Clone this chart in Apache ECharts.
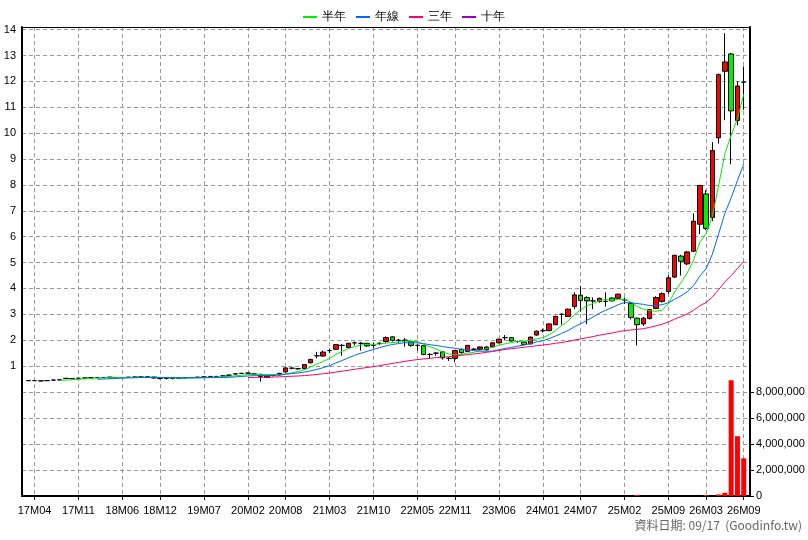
<!DOCTYPE html>
<html><head><meta charset="utf-8">
<script src="https://cdn.jsdelivr.net/npm/echarts@6/dist/echarts.min.js"></script>
<style>html,body{margin:0;padding:0;background:#fff}#c{width:808px;height:540px}</style>
</head><body><div id="c"></div>
<script>
// month categories 17M03 .. 26M09
const months = [];
for (let y = 17, m = 3; !(y === 26 && m === 10); ) {
  months.push(String(y) + 'M' + String(m).padStart(2, '0'));
  m++; if (m > 12) { m = 1; y++; }
}
const shownLabels = ['17M04','17M11','18M06','18M12','19M07','20M02','20M08','21M03','21M10','22M05','22M11','23M06','24M01','24M07','25M02','25M09','26M03','26M09'];
const priceTicks = [1,2,3,4,5,6,7,8,9,10,11,12,13,14];
const volTicks = [0,2000000,4000000,6000000,8000000];
// [open, close, low, high]
const ohlc = [
[.44,.44,.44,.45],[.44,.44,.43,.45],[.43,.43,.42,.44],[.44,.44,.43,.45],[.46,.46,.45,.47],[.47,.47,.46,.48],
[.53,.52,.51,.54],[.52,.52,.51,.53],[.53,.53,.52,.54],[.54,.54,.53,.55],[.55,.55,.54,.56],[.56,.56,.54,.57],
[.56,.56,.55,.57],[.57,.57,.55,.58],[.56,.56,.53,.57],[.56,.56,.55,.57],[.57,.57,.55,.58],[.58,.57,.55,.60],
[.58,.58,.56,.62],[.59,.59,.55,.60],[.58,.54,.51,.58],[.53,.53,.49,.54],[.52,.52,.49,.54],[.53,.52,.49,.54],
[.53,.53,.51,.55],[.55,.55,.52,.57],[.56,.56,.54,.58],[.57,.57,.55,.58],[.58,.58,.56,.60],[.60,.60,.57,.61],
[.60,.60,.58,.62],[.62,.62,.60,.64],[.65,.65,.63,.67],[.70,.70,.67,.71],[.72,.72,.70,.73],[.73,.73,.71,.74],
[.70,.70,.68,.72],[.68,.60,.40,.70],[.56,.62,.55,.63],[.64,.64,.60,.66],[.66,.72,.64,.74],[.78,.93,.75,.95],
[.92,.92,.88,.95],
[.90,.90,.86,.92],[.90,1.06,.88,1.08],[1.13,1.26,1.1,1.28],[1.4,1.4,1.3,1.55],[1.39,1.54,1.36,1.6],
[1.6,1.6,1.5,1.68],[1.65,1.83,1.62,1.85],[1.8,1.8,1.4,1.85],[1.72,1.88,1.7,1.9],[1.9,1.9,1.8,1.95],
[1.88,1.88,1.6,1.93],[1.88,1.78,1.75,1.9],[1.8,1.8,1.68,1.9],[1.88,1.88,1.82,1.92],[1.95,2.1,1.9,2.15],
[2.13,2.0,1.95,2.15],[2.0,2.0,1.9,2.05],[2.0,2.0,1.75,2.08],[1.95,1.8,1.75,1.97],[1.8,1.8,1.6,1.85],
[1.79,1.45,1.42,1.8],[1.45,1.45,1.3,1.5],[1.5,1.5,1.4,1.55],[1.55,1.32,1.25,1.58],[1.3,1.3,1.2,1.35],
[1.3,1.6,1.15,1.62],[1.65,1.52,1.48,1.68],[1.57,1.8,1.55,1.82],
[1.65,1.65,1.6,1.7],[1.65,1.74,1.62,1.76],[1.63,1.74,1.6,1.76],[1.75,1.9,1.72,1.92],[1.9,2.04,1.88,2.06],
[2.1,2.1,2.0,2.2],[2.1,1.97,1.95,2.12],[1.95,1.95,1.9,1.98],[1.93,1.83,1.8,1.95],[1.86,2.12,1.84,2.14],
[2.2,2.35,2.18,2.37],[2.37,2.37,2.3,2.45],[2.37,2.63,2.35,2.65],[2.6,2.92,2.58,2.95],[3.0,3.0,2.6,3.05],
[2.92,3.2,2.9,3.22],[3.3,3.75,3.2,3.85],[3.74,3.54,3.1,4.1],[3.65,3.52,2.62,3.7],[3.52,3.52,3.2,3.65],
[3.5,3.62,3.45,3.64],[3.5,3.5,3.3,3.85],[3.63,3.52,3.5,3.65],[3.62,3.78,3.6,3.8],[3.56,3.56,3.4,3.65],
[3.42,2.88,2.8,3.45],[2.85,2.6,1.8,2.88],
[2.63,2.85,2.55,2.9],[2.84,3.18,2.8,3.2],[3.23,3.65,3.2,3.7],[3.5,3.8,3.45,3.85],[3.88,4.41,3.8,4.5],
[4.44,5.28,4.4,5.3],[5.25,5.05,4.5,5.3],[4.95,5.41,4.9,5.45],[5.44,6.6,5.4,6.9],[6.48,7.98,6.1,8.0],
[7.65,6.32,6.25,7.8],[6.74,9.33,6.6,9.65],[9.82,12.26,9.6,12.3],[12.39,12.75,10.5,13.86],[13.06,10.86,8.8,13.1],
[10.49,11.82,10.3,12.0],[11.97,11.97,10.9,12.57]
];
const volumes = [
0,0,0,0,0,0,0,0,0,0,0,0,0,0,0,0,0,0,0,0,
0,0,0,0,0,0,0,0,0,0,0,0,0,0,0,0,0,0,0,0,
0,0,0,0,0,0,0,0,0,0,0,0,0,0,0,0,0,0,0,0,
0,0,0,0,0,0,0,0,0,0,0,0,0,0,0,0,0,0,0,0,
0,0,0,0,0,0,0,0,0,0,0,0,0,0,0,0,0,80000,0,0,
0,0,0,0,0,0,0,0,80000,0,120000,250000,8900000,4600000,2900000
];

function ma(n){
  return ohlc.map((d,i)=>{
    if(i<n-1) return '-';
    let s=0; for(let k=i-n+1;k<=i;k++) s+=ohlc[k][1];
    return +(s/n).toFixed(3);
  });
}
const pad = a => ['-'].concat(a, ['-']);
const cats = [''].concat(months, ['']);
const showFn = (i, v) => shownLabels.includes(v);
const font = 'Liberation Sans, Arial, sans-serif';

const chart = echarts.init(document.getElementById('c'));
chart.setOption({
  animation:false,
  textStyle:{fontFamily:font},
  legend:{top:6,left:'center',itemWidth:14,itemHeight:2,itemGap:10,
    textStyle:{fontSize:12,color:'#000'},
    data:[{name:'半年',icon:'rect'},{name:'年線',icon:'rect'},{name:'三年',icon:'rect'},{name:'十年',icon:'rect'}]},
  grid:[{left:22,right:58,top:27,height:365},{left:22,right:58,top:392,height:104}],
  xAxis:[
    {type:'category',gridIndex:0,data:cats,boundaryGap:false,position:'top',
     axisLine:{onZero:false,lineStyle:{color:'#000',width:1}},axisTick:{show:false},axisLabel:{show:false},
     splitLine:{show:true,interval:showFn,lineStyle:{color:'#999',type:[4,3]}}},
    {type:'category',gridIndex:1,data:cats,boundaryGap:false,
     axisLine:{onZero:false,lineStyle:{color:'#000',width:2}},axisTick:{interval:showFn,length:4,lineStyle:{color:'#000'}},
     axisLabel:{interval:showFn,color:'#000',fontSize:11,margin:9},
     splitLine:{show:true,interval:showFn,lineStyle:{color:'#999',type:[4,3]}}}
  ],
  yAxis:[
    {type:'value',gridIndex:0,min:0,max:14.1,interval:1,
     axisLine:{show:true,lineStyle:{color:'#000',width:2}},axisTick:{show:false},
     axisLabel:{color:'#000',fontSize:11,margin:6,formatter:v=>priceTicks.includes(v)?String(v):''},
     splitLine:{lineStyle:{color:'#999',type:[4,3]}}},
    {type:'value',gridIndex:1,position:'right',min:0,max:8000000,interval:2000000,
     axisLine:{show:true,lineStyle:{color:'#000',width:2}},axisTick:{show:true,length:4},
     axisLabel:{color:'#000',fontSize:11,margin:6,formatter:v=>volTicks.includes(v)?v.toLocaleString('en-US'):''},
     splitLine:{lineStyle:{color:'#999',type:[4,3]}}},
    {type:'value',gridIndex:0,position:'right',min:0,max:14.1,
     axisLine:{show:true,lineStyle:{color:'#000',width:2}},axisTick:{show:false},axisLabel:{show:false},splitLine:{show:false}},
    {type:'value',gridIndex:1,position:'left',min:0,max:8000000,
     axisLine:{show:true,lineStyle:{color:'#000',width:2}},axisTick:{show:false},axisLabel:{show:false},splitLine:{show:false}}
  ],
  series:[
    {type:'candlestick',xAxisIndex:0,yAxisIndex:0,data:pad(ohlc),barWidth:5,
     itemStyle:{color:'#ff0000',color0:'#00ee00',borderColor:'#000',borderColor0:'#000',borderWidth:1}},
    {name:'半年',type:'line',xAxisIndex:0,yAxisIndex:0,data:pad(ma(6)),showSymbol:false,lineStyle:{color:'#00ee00',width:1},itemStyle:{color:'#00ee00'}},
    {name:'年線',type:'line',xAxisIndex:0,yAxisIndex:0,data:pad(ma(12)),showSymbol:false,lineStyle:{color:'#0066ff',width:1},itemStyle:{color:'#0066ff'}},
    {name:'三年',type:'line',xAxisIndex:0,yAxisIndex:0,data:pad(ma(36)),showSymbol:false,lineStyle:{color:'#ff0066',width:1},itemStyle:{color:'#ff0066'}},
    {name:'十年',type:'line',xAxisIndex:0,yAxisIndex:0,data:pad([]),showSymbol:false,lineStyle:{color:'#9900cc',width:1},itemStyle:{color:'#9900cc'}},
    {type:'bar',xAxisIndex:1,yAxisIndex:1,data:pad(volumes),barWidth:5,clip:false,itemStyle:{color:'#ff0000'}}
  ],
  graphic:[{type:'text',right:6,top:519,style:{text:'資料日期: 09/17  (Goodinfo.tw)',fill:'#666',font:'12px "Noto Sans CJK TC", sans-serif'}}]
});
</script></body></html>
